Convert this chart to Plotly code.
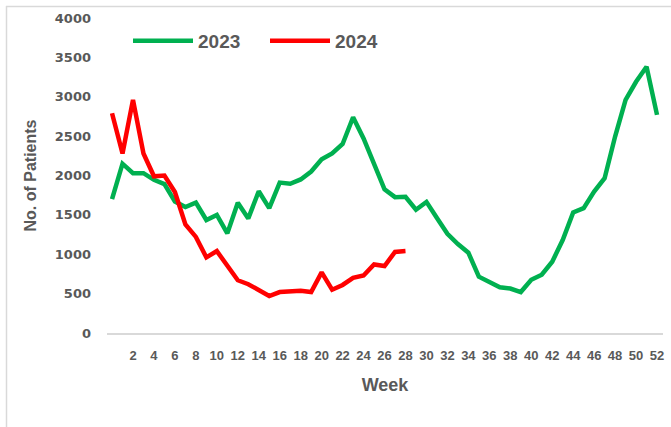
import plotly.graph_objects as go

weeks_2023 = list(range(0, 53))
patients_2023 = [1700, 2150, 2030, 2030, 1945, 1890, 1670, 1600, 1655, 1435,
                 1500, 1265, 1655, 1455, 1800, 1585, 1910, 1895, 1950, 2050,
                 2205, 2280, 2400, 2740, 2470, 2130, 1825, 1725, 1730, 1565,
                 1665, 1460, 1260, 1130, 1020, 715, 650, 580, 565, 520,
                 675, 740, 905, 1180, 1530, 1585, 1795, 1965, 2495, 2960,
                 3190, 3380, 2770]

weeks_2024 = list(range(0, 29))
patients_2024 = [2790, 2280, 2960, 2280, 1990, 2000, 1790, 1380, 1220, 960,
                 1040, 850, 670, 620, 540, 470, 520, 525, 535, 520,
                 770, 550, 610, 700, 730, 870, 850, 1030, 1040]

x_tick_vals = list(range(2, 53, 2))
x_tick_text = [str(v) for v in x_tick_vals]
y_tick_vals = [0, 500, 1000, 1500, 2000, 2500, 3000, 3500, 4000]

GREY = "#595959"
FONT = "Liberation Sans"

fig = go.Figure()
fig.add_trace(go.Scatter(x=weeks_2023, y=patients_2023, mode="lines", name="2023",
                         line=dict(color="#00B050", width=4.5)))
fig.add_trace(go.Scatter(x=weeks_2024, y=patients_2024, mode="lines", name="2024",
                         line=dict(color="#FF0000", width=4.5)))

L, R, T, B = 107, 663, 18, 333
W, H = 671, 427
pw, ph = R - L, B - T

def px_to_paper_x(px):
    return (px - L) / pw

def px_to_paper_y(py):
    return (B - py) / ph

border = dict(color="#D9D9D9", width=1.5)

fig.update_layout(
    width=W, height=H, autosize=False,
    margin=dict(l=L, r=W - R, t=T, b=H - B, pad=0),
    paper_bgcolor="white", plot_bgcolor="white",
    font=dict(family=FONT, color=GREY),
    showlegend=True,
    legend=dict(orientation="h", x=px_to_paper_x(128), xanchor="left",
                y=px_to_paper_y(41), yanchor="middle",
                font=dict(family=FONT, size=19, color=GREY, weight="bold"),
                itemwidth=60, entrywidth=62, entrywidthmode="pixels",
                bgcolor="rgba(0,0,0,0)", traceorder="normal"),
    xaxis=dict(range=[-0.48, 52.57], tickmode="array", tickvals=x_tick_vals,
               ticktext=x_tick_text, showgrid=False, zeroline=False,
               showline=True, linecolor="#D9D9D9", linewidth=1.5,
               ticks="", ticklabelstandoff=10,
               tickfont=dict(family=FONT, size=13, color=GREY, weight="bold"),
               title=dict(text="Week", standoff=16,
                          font=dict(family=FONT, size=18, color=GREY, weight="bold"))),
    yaxis=dict(range=[0, 4000], tickmode="array", tickvals=y_tick_vals,
               showgrid=False, zeroline=False, showline=False, ticks="",
               ticklabelstandoff=15,
               tickfont=dict(family="DejaVu Sans", size=13, color=GREY, weight="bold"),
               title=dict(text="No. of Patients", standoff=14,
                          font=dict(family=FONT, size=16, color=GREY, weight="bold"))),
    shapes=[
        dict(type="line", xref="paper", yref="paper",
             x0=px_to_paper_x(6), x1=px_to_paper_x(W + 5),
             y0=px_to_paper_y(6.5), y1=px_to_paper_y(6.5), line=border, layer="below"),
        dict(type="line", xref="paper", yref="paper",
             x0=px_to_paper_x(6.5), x1=px_to_paper_x(6.5),
             y0=px_to_paper_y(6), y1=px_to_paper_y(H + 5), line=border, layer="below"),
    ],
)

fig.write_html("out.html",
               config={"displayModeBar": False},
               post_script="document.body.style.margin='0px';document.body.style.overflow='hidden';")
